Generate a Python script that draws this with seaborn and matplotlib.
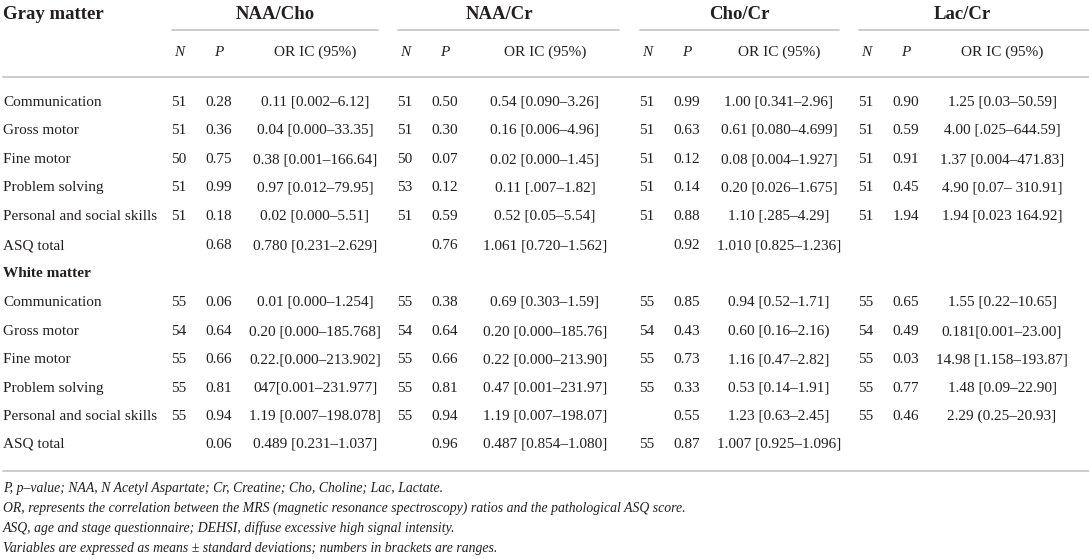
import matplotlib
matplotlib.use("Agg")
import matplotlib.pyplot as plt
import seaborn as sns

# ---- table data ----
ratios = ["NAA/Cho", "NAA/Cr", "Cho/Cr", "Lac/Cr"]
row_labels = ["Communication", "Gross motor", "Fine motor", "Problem solving",
              "Personal and social skills", "ASQ total"]

# gray matter: (N, P, OR IC)
gray_naa_cho = [("51", "0.28", "0.11 [0.002–6.12]"), ("51", "0.36", "0.04 [0.000–33.35]"),
                ("50", "0.75", "0.38 [0.001–166.64]"), ("51", "0.99", "0.97 [0.012–79.95]"),
                ("51", "0.18", "0.02 [0.000–5.51]"), ("", "0.68", "0.780 [0.231–2.629]")]
gray_naa_cr = [("51", "0.50", "0.54 [0.090–3.26]"), ("51", "0.30", "0.16 [0.006–4.96]"),
               ("50", "0.07", "0.02 [0.000–1.45]"), ("53", "0.12", "0.11 [.007–1.82]"),
               ("51", "0.59", "0.52 [0.05–5.54]"), ("", "0.76", "1.061 [0.720–1.562]")]
gray_cho_cr = [("51", "0.99", "1.00 [0.341–2.96]"), ("51", "0.63", "0.61 [0.080–4.699]"),
               ("51", "0.12", "0.08 [0.004–1.927]"), ("51", "0.14", "0.20 [0.026–1.675]"),
               ("51", "0.88", "1.10 [.285–4.29]"), ("", "0.92", "1.010 [0.825–1.236]")]
gray_lac_cr = [("51", "0.90", "1.25 [0.03–50.59]"), ("51", "0.59", "4.00 [.025–644.59]"),
               ("51", "0.91", "1.37 [0.004–471.83]"), ("51", "0.45", "4.90 [0.07– 310.91]"),
               ("51", "1.94", "1.94 [0.023 164.92]"), ("", "", "")]

# white matter
white_naa_cho = [("55", "0.06", "0.01 [0.000–1.254]"), ("54", "0.64", "0.20 [0.000–185.768]"),
                 ("55", "0.66", "0.22.[0.000–213.902]"), ("55", "0.81", "047[0.001–231.977]"),
                 ("55", "0.94", "1.19 [0.007–198.078]"), ("", "0.06", "0.489 [0.231–1.037]")]
white_naa_cr = [("55", "0.38", "0.69 [0.303–1.59]"), ("54", "0.64", "0.20 [0.000–185.76]"),
                ("55", "0.66", "0.22 [0.000–213.90]"), ("55", "0.81", "0.47 [0.001–231.97]"),
                ("55", "0.94", "1.19 [0.007–198.07]"), ("", "0.96", "0.487 [0.854–1.080]")]
white_cho_cr = [("55", "0.85", "0.94 [0.52–1.71]"), ("54", "0.43", "0.60 [0.16–2.16)"),
                ("55", "0.73", "1.16 [0.47–2.82]"), ("55", "0.33", "0.53 [0.14–1.91]"),
                ("", "0.55", "1.23 [0.63–2.45]"), ("55", "0.87", "1.007 [0.925–1.096]")]
white_lac_cr = [("55", "0.65", "1.55 [0.22–10.65]"), ("54", "0.49", "0.181[0.001–23.00]"),
                ("55", "0.03", "14.98 [1.158–193.87]"), ("55", "0.77", "1.48 [0.09–22.90]"),
                ("55", "0.46", "2.29 (0.25–20.93]"), ("", "", "")]

footnotes = [
    "P, p–value; NAA, N Acetyl Aspartate; Cr, Creatine; Cho, Choline; Lac, Lactate.",
    "OR, represents the correlation between the MRS (magnetic resonance spectroscopy) ratios and the pathological ASQ score.",
    "ASQ, age and stage questionnaire; DEHSI, diffuse excessive high signal intensity.",
    "Variables are expressed as means ± standard deviations; numbers in brackets are ranges.",
]

# ---- layout ----
sns.set_theme(style="white")
plt.rcParams["font.family"] = ["Liberation Serif", "DejaVu Serif"]
ink = "#231f20"
rule = "#c8c8c8"

fig = plt.figure(figsize=(10.89, 5.59), dpi=100)
ax = fig.add_axes([0, 0, 1, 1])
ax.set_xlim(0, 1089)
ax.set_ylim(559, 0)
ax.axis("off")

# column centres per ratio block: N, P, OR, header centre, rule span
n_x = [179, 405, 647, 866]
p_x = [219, 445, 687, 906]
or_x = [315, 545, 779, 1002]
head_x = [275, 500, 739, 962]
spans = [(172, 378), (398, 619), (640, 839), (859, 1089)]

# text is placed on its baseline so rows line up regardless of descenders
ax.text(3, 19, "Gray matter", fontsize=13.5, fontweight="bold", color=ink, va="baseline")
for i, name in enumerate(ratios):
    ax.text(head_x[i], 19, name, fontsize=13.5, fontweight="bold", color=ink,
            ha="center", va="baseline")
    ax.plot(spans[i], [30, 30], color=rule, lw=1.3)
    ax.text(n_x[i], 56, "N", fontsize=11, style="italic", color=ink, ha="center", va="baseline")
    ax.text(p_x[i], 56, "P", fontsize=11, style="italic", color=ink, ha="center", va="baseline")
    ax.text(or_x[i], 56, "OR IC (95%)", fontsize=11, color=ink, ha="center", va="baseline")
ax.plot([3, 1089], [77, 77], color=rule, lw=1.3)

gray_rows_y = [106, 134, 163, 191, 220, 249]
white_rows_y = [306, 335, 363, 392, 420, 448]


def draw_block(blocks, ys):
    for r, y in enumerate(ys):
        ax.text(3, y, row_labels[r], fontsize=11, color=ink, va="baseline")
        for i, blk in enumerate(blocks):
            n, p, o = blk[r]
            ax.text(n_x[i], y, n, fontsize=11, color=ink, ha="center", va="baseline")
            ax.text(p_x[i], y, p, fontsize=11, color=ink, ha="center", va="baseline")
            ax.text(or_x[i], y, o, fontsize=11, color=ink, ha="center", va="baseline")


draw_block([gray_naa_cho, gray_naa_cr, gray_cho_cr, gray_lac_cr], gray_rows_y)
ax.text(3, 277, "White matter", fontsize=11, fontweight="bold", color=ink, va="baseline")
draw_block([white_naa_cho, white_naa_cr, white_cho_cr, white_lac_cr], white_rows_y)

ax.plot([3, 1089], [471, 471], color=rule, lw=1.3)
for k, line in enumerate(footnotes):
    ax.text(3, 492 + 20 * k, line, fontsize=9.9, style="italic", color=ink, va="baseline")

fig.savefig("out.png", dpi=100)
